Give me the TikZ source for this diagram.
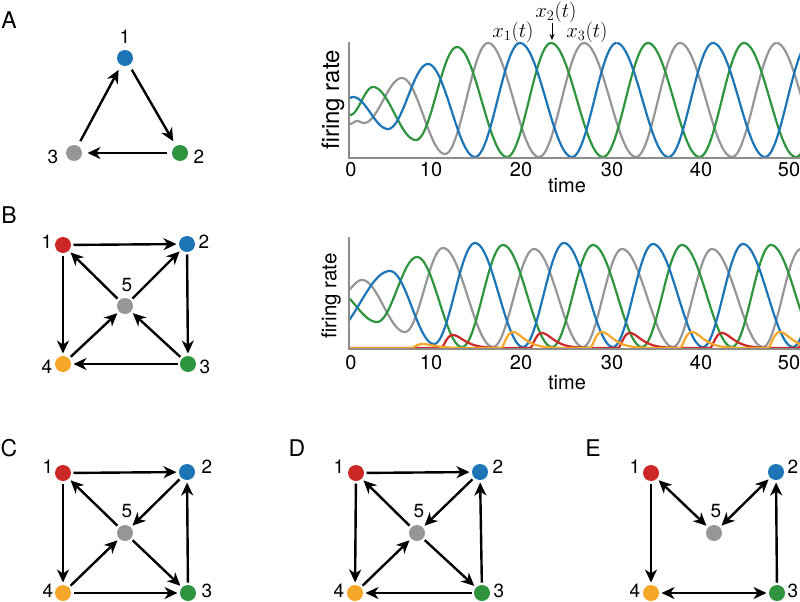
\documentclass[tikz,border=0pt]{standalone}
\usepackage{fontspec}
\setmainfont{TeX Gyre Heros}
\usetikzlibrary{arrows.meta}
\definecolor{cblue}{RGB}{28,117,182}
\definecolor{cgreen}{RGB}{46,148,62}
\definecolor{cgray}{RGB}{150,150,152}
\definecolor{cred}{RGB}{204,40,40}
\definecolor{corange}{RGB}{246,166,40}
\definecolor{axisgray}{RGB}{140,140,140}
\newcommand\wavecurve[4]{%
  \foreach \wxb/\wyb [remember=\wxb as \wxa (initially #2), remember=\wyb as \wya (initially #3)] in {#4}{%
    \draw[#1] plot[variable=\t, domain=0:1, samples=30] ({\wxa+(\wxb-\wxa)*\t}, {\wya+(\wyb-\wya)*(1-cos(180*\t))/2});
  }%
}
\tikzset{
  nd/.style={circle, fill=#1, minimum size=16pt, inner sep=0pt, outer sep=2.5pt},
  ed/.style={line width=2.4pt, -{Stealth[length=13pt,width=12pt,inset=4pt]}},
  bd/.style={line width=2.4pt, {Stealth[length=13pt,width=12pt,inset=4pt]}-{Stealth[length=13pt,width=12pt,inset=4pt]}},
  nlab/.style={font=\fontsize{19}{22}\selectfont, inner sep=0pt},
  panel/.style={font=\fontsize{23}{26}\selectfont, inner sep=0pt},
  ticklab/.style={font=\fontsize{20}{23}\selectfont, inner sep=0pt},
  curve/.style={line width=2.2pt},
  axisline/.style={axisgray, line width=1.4pt},
}
\begin{document}
\begin{tikzpicture}[x=1pt,y=-1pt,
  declare function={bump(\s)=(min(max(\s,0),80)/12)*(min(max(\s,0),80)/12)*exp(2-min(max(\s,0),80)/6);}]
\useasboundingbox (0,0) rectangle (800,602);

% ---------- panel letters
\node[panel] (pA) at (9,20) {A};
\node[panel] (pB) at (9,215) {B};
\node[panel] (pC) at (9,448) {C};
\node[panel] (pD) at (297,448) {D};
\node[panel] (pE) at (593,448) {E};

% ---------- graph A
\node[nd=cblue]  (a1) at (125,58) {};
\node[nd=cgreen] (a2) at (180,153) {};
\node[nd=cgray]  (a3) at (74,153) {};
\node[nlab] (la1) at (125,37) {1};
\node[nlab] (la2) at (199,157) {2};
\node[nlab] (la3) at (53,157) {3};
\draw[ed, shorten <=3pt, shorten >=3pt] (a1) -- (a2);
\draw[ed, shorten <=3pt, shorten >=3pt] (a2) -- (a3);
\draw[ed, shorten <=3pt, shorten >=3pt] (a3) -- (a1);

% ---------- graph B
\node[nd=cred]    (b1) at (63,245) {};
\node[nd=cblue]   (b2) at (187,244) {};
\node[nd=cgreen]  (b3) at (188,364) {};
\node[nd=corange] (b4) at (63,364) {};
\node[nd=cgray]   (b5) at (125,306) {};
\node[nlab] (lb1) at (47,242) {1};
\node[nlab] (lb2) at (204,242) {2};
\node[nlab] (lb3) at (205,367) {3};
\node[nlab] (lb4) at (47,367) {4};
\node[nlab] (lb5) at (127,285) {5};
\draw[ed] (b1) -- (b2);
\draw[ed] (b1) -- (b4);
\draw[ed] (b2) -- (b3);
\draw[ed] (b3) -- (b4);
\draw[ed] (b5) -- (b1);
\draw[ed] (b5) -- (b2);
\draw[ed] (b4) -- (b5);
\draw[ed] (b3) -- (b5);

% ---------- graph C
\node[nd=cred]    (c1) at (63,473) {};
\node[nd=cblue]   (c2) at (187,472) {};
\node[nd=cgreen]  (c3) at (188,593) {};
\node[nd=corange] (c4) at (63,593) {};
\node[nd=cgray]   (c5) at (125,533) {};
\node[nlab] (lc1) at (48,467) {1};
\node[nlab] (lc2) at (207,467) {2};
\node[nlab] (lc3) at (207,591) {3};
\node[nlab] (lc4) at (48,591) {4};
\node[nlab] (lc5) at (127,511) {5};
\draw[ed] (c1) -- (c2);
\draw[ed] (c1) -- (c4);
\draw[ed] (c5) -- (c1);
\draw[ed] (c2) -- (c5);
\draw[ed] (c4) -- (c5);
\draw[ed] (c5) -- (c3);
\draw[ed] (c4) -- (c3);
\draw[ed] (c3) -- (c2);

% ---------- graph D
\node[nd=cred]    (d1) at (356,473) {};
\node[nd=cblue]   (d2) at (480,472) {};
\node[nd=cgreen]  (d3) at (482,593) {};
\node[nd=corange] (d4) at (355,593) {};
\node[nd=cgray]   (d5) at (417,533) {};
\node[nlab] (ld1) at (339,467) {1};
\node[nlab] (ld2) at (498,467) {2};
\node[nlab] (ld3) at (499,591) {3};
\node[nlab] (ld4) at (339,591) {4};
\node[nlab] (ld5) at (419,511) {5};
\draw[ed] (d1) -- (d2);
\draw[ed] (d1) -- (d4);
\draw[ed] (d5) -- (d1);
\draw[ed] (d2) -- (d5);
\draw[ed] (d4) -- (d5);
\draw[ed] (d5) -- (d3);
\draw[ed] (d3) -- (d4);
\draw[ed] (d3) -- (d2);

% ---------- graph E
\node[nd=cred]    (e1) at (651,473) {};
\node[nd=cblue]   (e2) at (776,472) {};
\node[nd=cgreen]  (e3) at (777,593) {};
\node[nd=corange] (e4) at (651,593) {};
\node[nd=cgray]   (e5) at (714,533) {};
\node[nlab] (le1) at (635,467) {1};
\node[nlab] (le2) at (793,467) {2};
\node[nlab] (le3) at (793,591) {3};
\node[nlab] (le4) at (635,591) {4};
\node[nlab] (le5) at (716,511) {5};
\draw[ed] (e1) -- (e4);
\draw[bd] (e1) -- (e5);
\draw[bd] (e5) -- (e2);
\draw[bd] (e4) -- (e3);
\draw[ed] (e3) -- (e2);

% ---------- plot A
\begin{scope}
\clip (349,0) rectangle (800,162);
\wavecurve{curve,cgray}{350}{124}{357/121, 364/123, 402/78, 445/154, 488/43, 539/157, 584/43, 636/157, 680/43, 732/157, 776.5/43, 828/157}
\wavecurve{curve,cgreen}{350}{115}{373/87, 416/140, 457/47, 507/157, 551/43, 603/157, 648/43, 699.5/157, 744/43, 796/157, 840/43}
\wavecurve{curve,cblue}{346}{100}{353/97, 388/129, 428/64, 475/157, 520/43, 572/157, 616.5/43, 668.5/157, 713/43, 765/157, 809.5/43}
\end{scope}
\draw[axisline] (349,42) -- (349,158) -- (800,158);
\foreach \v/\xx in {0/351,10/431,20/521,30/612,40/701,50/789}
  \node[ticklab] (tA\v) at (\xx,170) {\v};
\node[ticklab] (timeA) at (567,186) {time};
\node[ticklab, font=\fontsize{24}{26}\selectfont, rotate=90] (frA) at (333,100) {firing rate};
\node[font=\fontsize{20}{24}\selectfont, inner sep=0pt] (x1) at (513,32) {$x_1(t)$};
\node[font=\fontsize{20}{24}\selectfont, inner sep=0pt] (x2) at (556,12) {$x_2(t)$};
\node[font=\fontsize{20}{24}\selectfont, inner sep=0pt] (x3) at (587,32) {$x_3(t)$};
\coordinate (x2top) at (552,23);
\coordinate (x2bot) at (552,40);
\draw[line width=1pt, -{Stealth[length=6pt,width=5pt]}] (x2top) -- (x2bot);

% ---------- plot B
\begin{scope}
\clip (349,200) rectangle (800,352);
\wavecurve{curve,cgray}{342}{294}{362/280, 405/332, 443/248, 493/347, 534/249, 583/347, 622/249, 673/347, 712/249, 763/347, 801/249}
\wavecurve{curve,cgreen}{335}{290}{377/322, 417/257, 462/347, 503/245, 552/347, 593/245, 642/347, 682/245, 732/347, 771/245, 821/347}
\wavecurve{curve,cblue}{330}{335}{390/271, 434/344, 475/243, 523/347, 564/243, 613/347, 653/244, 703/347, 743/244, 793/347, 833/244}
\draw[curve,cred] plot[variable=\t, domain=349:800, samples=451] (\t, {348 - 13*bump(\t-441) - 15*bump(\t-530) - 15*bump(\t-618) - 15*bump(\t-710) - 15*bump(\t-798)});
\draw[curve,corange] plot[variable=\t, domain=349:800, samples=451] (\t, {348 - 4*bump(\t-411) - 16*bump(\t-501) - 16*bump(\t-590) - 16*bump(\t-680) - 16*bump(\t-768)});
\end{scope}
\draw[axisline] (349,237) -- (349,349) -- (800,349);
\foreach \v/\xx in {0/351,10/431,20/521,30/612,40/701,50/789}
  \node[ticklab] (tB\v) at (\xx,363) {\v};
\node[ticklab] (timeB) at (567,383) {time};
\node[ticklab, font=\fontsize{20.5}{24}\selectfont, rotate=90] (frB) at (331,296) {firing rate};
\end{tikzpicture}
\end{document}
